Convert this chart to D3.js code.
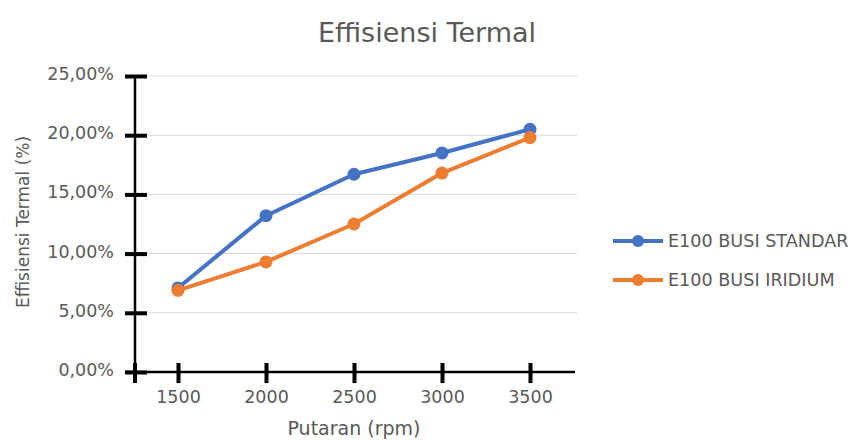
<!DOCTYPE html>
<html>
<head>
<meta charset="utf-8">
<script src="https://cdn.jsdelivr.net/npm/d3@7"></script>
<style>
  html, body { margin: 0; padding: 0; background: #fff; }
  text { font-family: "DejaVu Sans", sans-serif; fill: #595959; }
</style>
</head>
<body>
<svg id="chart"></svg>
<script>
// chart values
const rpm = [1500, 2000, 2500, 3000, 3500];
const busiStandar = [7.1, 13.2, 16.7, 18.5, 20.5];
const busiIridium = [6.9, 9.3, 12.5, 16.8, 19.8];
const yTicks = [0, 5, 10, 15, 20, 25];
const seriesNames = ["E100 BUSI STANDAR", "E100 BUSI IRIDIUM"];
const seriesColors = ["#4472C4", "#ED7D31"];

document.addEventListener('DOMContentLoaded', function() {
  const width = 857, height = 440;

  const svg = d3.select("#chart")
      .attr("width", width)
      .attr("height", height);

  // plot area
  const x = d3.scaleLinear().domain([1500, 3500]).range([178, 530]);
  const y = d3.scaleLinear().domain([0, 25]).range([372, 76]);
  const axisX = 135;

  // gridlines
  svg.append("g")
    .selectAll("line")
    .data(yTicks.filter(d => d > 0))
    .enter().append("line")
      .attr("x1", 147).attr("x2", 577)
      .attr("y1", d => y(d)).attr("y2", d => y(d))
      .attr("stroke", "#d9d9d9")
      .attr("stroke-width", 1);

  // y axis
  const yAxis = svg.append("g")
      .attr("transform", "translate(" + axisX + ",0)")
      .call(d3.axisLeft(y).tickValues(yTicks).tickSize(0)
        .tickFormat(d => d3.format(".2f")(d).replace(".", ",") + "%"));
  yAxis.select(".domain").remove();
  yAxis.selectAll("text")
      .attr("x", -21)
      .attr("dy", "0.2em")
      .style("font-size", "17.5px")
      .style("fill", "#595959");
  yAxis.selectAll(".tick").append("line")
      .attr("x1", -10).attr("x2", 12)
      .attr("stroke", "#000").attr("stroke-width", 4);
  svg.append("line")
      .attr("x1", axisX).attr("x2", axisX)
      .attr("y1", y(25)).attr("y2", 382)
      .attr("stroke", "#000").attr("stroke-width", 2.5);

  // x axis
  const xAxis = svg.append("g")
      .attr("transform", "translate(0," + y(0) + ")")
      .call(d3.axisBottom(x).tickValues(rpm).tickSize(0).tickFormat(d3.format("d")));
  xAxis.select(".domain").remove();
  xAxis.selectAll("text")
      .attr("y", 27)
      .attr("dy", "0.2em")
      .style("font-size", "17.5px")
      .style("fill", "#595959");
  xAxis.selectAll(".tick").append("line")
      .attr("y1", -9).attr("y2", 11)
      .attr("stroke", "#000").attr("stroke-width", 4);
  svg.append("line")
      .attr("x1", 125).attr("x2", 575)
      .attr("y1", y(0)).attr("y2", y(0))
      .attr("stroke", "#000").attr("stroke-width", 2.5);
  // cross mark at the origin
  svg.append("line")
      .attr("x1", axisX).attr("x2", axisX)
      .attr("y1", y(0) - 9).attr("y2", y(0) + 11)
      .attr("stroke", "#000").attr("stroke-width", 4);

  // series
  const series = [busiStandar, busiIridium];
  const line = d3.line().x((d, i) => x(rpm[i])).y(d => y(d));

  series.forEach(function(vals, s) {
    const g = svg.append("g");
    g.append("path")
        .datum(vals)
        .attr("fill", "none")
        .attr("stroke", seriesColors[s])
        .attr("stroke-width", 4)
        .attr("stroke-linejoin", "round")
        .attr("d", line);
    g.selectAll("circle")
        .data(vals)
        .enter().append("circle")
        .attr("cx", (d, i) => x(rpm[i]))
        .attr("cy", d => y(d))
        .attr("r", 6.5)
        .attr("fill", seriesColors[s]);
  });

  // title and axis titles
  svg.append("text")
      .attr("x", 427).attr("y", 42)
      .attr("text-anchor", "middle")
      .style("font-size", "27px")
      .text("Effisiensi Termal");

  svg.append("text")
      .attr("transform", "translate(29,222) rotate(-90)")
      .attr("text-anchor", "middle")
      .style("font-size", "17px")
      .text("Effisiensi Termal (%)");

  svg.append("text")
      .attr("x", 354).attr("y", 435)
      .attr("text-anchor", "middle")
      .style("font-size", "19px")
      .text("Putaran (rpm)");

  // legend
  const legend = svg.append("g")
    .selectAll("g")
    .data(seriesNames)
    .enter().append("g")
      .attr("transform", (d, i) => "translate(613," + (241 + i * 39) + ")");
  legend.append("line")
      .attr("x1", 0).attr("x2", 50)
      .attr("stroke", (d, i) => seriesColors[i])
      .attr("stroke-width", 4);
  legend.append("circle")
      .attr("cx", 25).attr("r", 6)
      .attr("fill", (d, i) => seriesColors[i]);
  legend.append("text")
      .attr("x", 55)
      .attr("dy", "0.36em")
      .style("font-size", "17.6px")
      .text(d => d);
});
</script>
</body>
</html>
